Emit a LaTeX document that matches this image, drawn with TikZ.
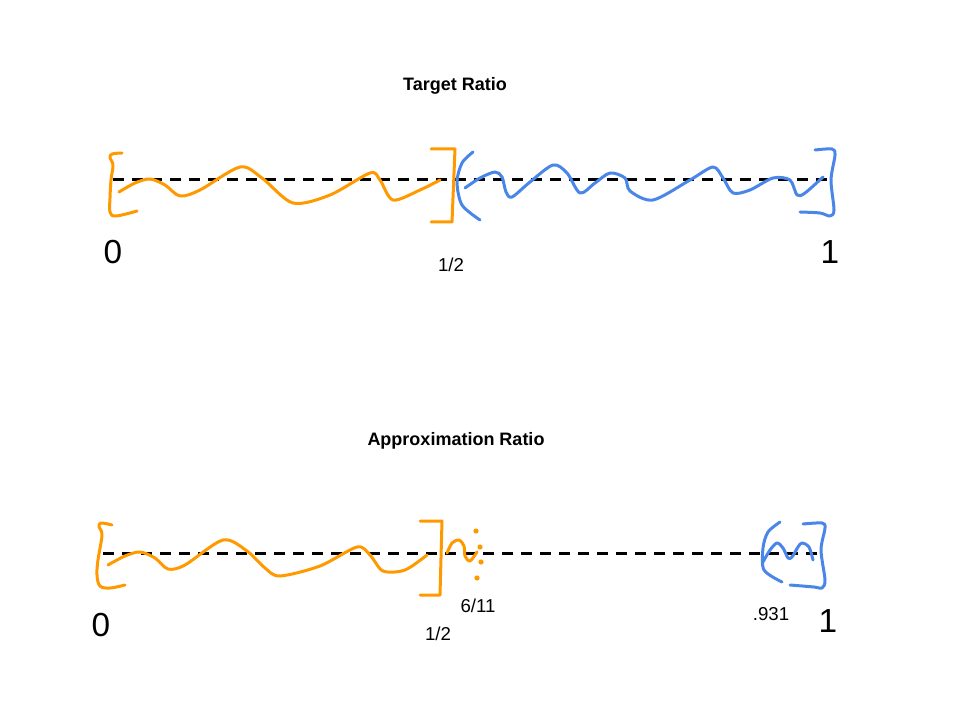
\documentclass[tikz,border=0pt]{standalone}
\usepackage{fontspec}
\setmainfont{Liberation Sans}
\definecolor{gorange}{HTML}{FF9900}
\definecolor{gblue}{HTML}{4A86E8}
\begin{document}
\begin{tikzpicture}[x=0.75pt,y=-0.75pt,
  ink/.style={line width=2.25pt,line cap=round,line join=round},
  orng/.style={ink,draw=gorange},
  blu/.style={ink,draw=gblue},
  axis/.style={line width=2.25pt,draw=black,dash pattern=on 8.25pt off 6pt},
  title/.style={font=\bfseries\fontsize{13.5}{16}\selectfont},
  small/.style={font=\fontsize{14}{17}\selectfont},
  big/.style={font=\fontsize{25}{30}\selectfont}]
\useasboundingbox (0,0) rectangle (960,720);
% ---------- Target Ratio ----------
\node[title] (t1) at (455,86) {Target Ratio};
\coordinate (a0) at (113,180);
\coordinate (a1) at (832,180);
\draw[axis] (a0) -- (a1);
% orange left bracket
\draw[orng] plot[smooth,tension=0.6] coordinates {(122,153) (112,154) (110,158) (113,165) (111,180) (110,198) (110,212) (116,216) (137,211)};
% orange wave
\draw[orng] plot[smooth] coordinates {(119,192) (135,183) (150,179) (165,185) (180,196) (200,190) (240,167) (262,178) (293,203) (330,195) (370,173) (380,180) (393,200) (420,190) (440,180)};
% orange right bracket
\draw[orng] (431,149) -- (455,149) -- (452,222) -- (431,222);
% blue open paren
\draw[blu] plot[smooth] coordinates {(473,152) (462,163) (457,182) (462,205) (480,220)};
% blue wave
\draw[blu] plot[smooth] coordinates {(465,188) (480,178) (495,172) (502,177) (506,192) (512,197) (530,182) (553,165) (567,173) (580,193) (595,183) (610,173) (625,178) (630,191) (653,200) (690,180) (713,167) (723,178) (733,193) (750,190) (773,178) (790,180) (797,195) (805,193) (823,177)};
% blue right bracket
\draw[blu] plot[smooth,tension=0.5] coordinates {(815,150) (832,149) (835,155) (831,180) (834,210) (830,216) (820,213) (800,212)};
\node[big] (z1) at (113,252) {0};
\node[big] (o1) at (830,252) {1};
\node[small] (h1) at (451,265) {1/2};
% ---------- Approximation Ratio ----------
\node[title] (t2) at (456,441) {Approximation Ratio};
\coordinate (b0) at (103,553);
\coordinate (b1) at (822,553);
\draw[axis] (b0) -- (b1);
% orange left bracket
\draw[orng] plot[smooth,tension=0.6] coordinates {(112,525) (101,523) (99,527) (102,535) (98,560) (97,575) (100,586) (110,588) (125,585)};
% orange wave
\draw[orng] plot[smooth] coordinates {(108,565) (125,556) (140,552) (155,558) (168,569) (185,565) (223,540) (247,551) (265,568) (280,576) (320,566) (357,547) (370,555) (383,571) (405,570) (427,555)};
% orange right bracket
\draw[orng] (420,521) -- (442,521) -- (440,595) -- (420,595);
% orange squiggle after bracket
\draw[orng] plot[smooth] coordinates {(447,553) (452,543) (459,540) (464,546) (465,556) (470,561) (477,552)};
\foreach \p in {(476,531),(480,547),(481,562),(477,578)}
  \fill[gorange] \p circle (2.6);
\node[small] (s1) at (478,606) {6/11};
\node[small] (h2) at (438,634) {1/2};
% blue part
\draw[blu] plot[smooth] coordinates {(780,522) (768,532) (763,548) (764,570) (782,582)};
\draw[blu] plot[smooth] coordinates {(763,562) (770,550) (777,543) (783,548) (788,558) (792,557) (798,547) (802,543) (809,547) (813,560)};
\draw[blu] plot[smooth,tension=0.5] coordinates {(803,524) (822,523) (825,528) (821,550) (825,580) (822,588) (814,587) (790,585)};
\node[small] (p1) at (771,614) {.931};
\node[big] (z2) at (101,625) {0};
\node[big] (o2) at (828,621) {1};
\end{tikzpicture}
\end{document}
